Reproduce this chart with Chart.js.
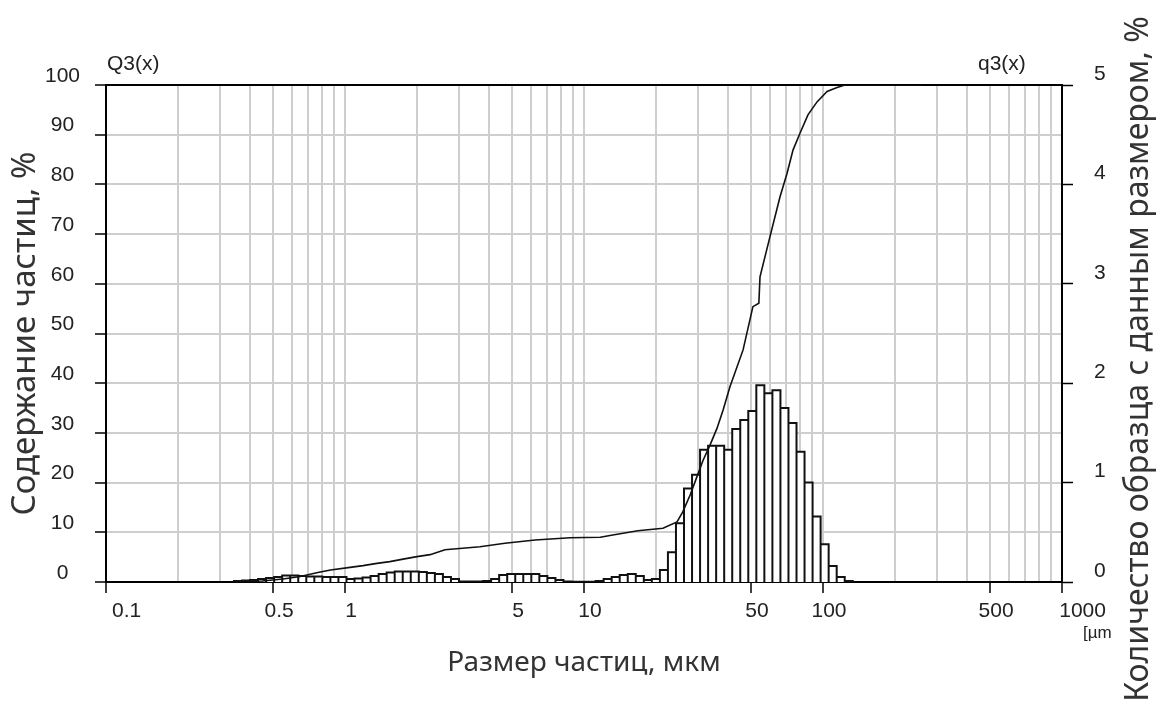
<!DOCTYPE html>
<html>
<head>
<meta charset="utf-8">
<title>Particle size distribution</title>
<script src="https://cdn.jsdelivr.net/npm/chart.js@4"></script>
<style>
  html, body { margin: 0; padding: 0; background: #fff; }
  canvas { display: block; }
</style>
</head>
<body>
<canvas id="psdChart" width="1159" height="715"></canvas>
<script>
// histogram channels: geometric bins, first lower edge and ratio
const binFirstEdge = 0.3431;   // µm
const binRatio = 1.0805;
// q3(x), % per channel (right axis)
const q3Values = [
    0.01, 0.015, 0.02, 0.03, 0.04, 0.05, 0.065, 0.065, 0.06, 0.055,
    0.055, 0.05, 0.05, 0.05, 0.03, 0.035, 0.045, 0.06, 0.08, 0.095,
    0.105, 0.105, 0.105, 0.10, 0.09, 0.08, 0.05, 0.03, 0.005, 0.005,
    0.005, 0.01, 0.03, 0.07, 0.08, 0.08, 0.08, 0.08, 0.06, 0.04,
    0.02, 0.005, 0.003, 0.003, 0.003, 0.01, 0.03, 0.05, 0.07, 0.08,
    0.06, 0.02, 0.03, 0.12, 0.30, 0.59, 0.94, 1.08, 1.33, 1.37,
    1.37, 1.33, 1.54, 1.63, 1.72, 1.98, 1.90, 1.93, 1.75, 1.60,
    1.31, 1.00, 0.66, 0.38, 0.16, 0.05, 0.01
];
// Q3(x), cumulative %, left axis
const cumSizes = [
    0.36, 0.45, 0.55, 0.65, 0.77, 0.87, 1.05, 1.19, 1.36, 1.54,
    1.75, 2.0, 2.27, 2.62, 3.67, 4.67, 6.24, 8.74, 11.7, 13.2,
    16.8, 21.4, 24.5, 25.9, 27.8, 29.7, 31.5, 33.7, 36.0, 38.2,
    40.8, 46.3, 50.9, 53.9, 54.5, 60.0, 66.1, 70.7, 74.9, 80.1,
    86.5, 94.4, 104, 114.5, 123.6, 259
];
const cumValues = [
    0, 0.2, 0.6, 1.1, 1.9, 2.4, 2.95, 3.3, 3.75, 4.1,
    4.6, 5.1, 5.5, 6.5, 7.1, 7.8, 8.45, 8.9, 9.0, 9.45,
    10.3, 10.8, 12.1, 14.1, 17.5, 21.2, 24.5, 27.6, 30.9, 34.6,
    39.3, 46.7, 55.4, 56.1, 61.4, 69.5, 77.5, 82.2, 86.9, 90.3,
    94.0, 96.6, 98.7, 99.5, 100, 100
];
const gridDecades = [0.1, 1, 10, 100];
const xTickLabels = [0.1, 0.5, 1, 5, 10, 50, 100, 500, 1000];

const tickFamily = "'Liberation Sans', Arial, sans-serif";
const titleFamily = "'Noto Sans', 'Open Sans', sans-serif";
const gridGray = '#cecece';

// outline of the histogram: every channel as a closed step
const histPoints = [];
q3Values.forEach((h, i) => {
    const lo = binFirstEdge * Math.pow(binRatio, i);
    const hi = lo * binRatio;
    histPoints.push({ x: lo, y: 0 }, { x: lo, y: h }, { x: hi, y: h }, { x: hi, y: 0 });
});

const cumPoints = cumSizes.map((s, i) => ({ x: s, y: cumValues[i] }));

const gridValues = [];
gridDecades.forEach(d => {
    for (let m = 1; m <= 9; m++) gridValues.push(+(d * m).toPrecision(3));
});
gridValues.push(1000);

const isLabelled = v => xTickLabels.includes(v);

const extraText = {
    id: 'extraText',
    afterDraw(chart) {
        const { ctx, chartArea: a } = chart;
        ctx.save();
        ctx.fillStyle = '#222';
        ctx.textBaseline = 'middle';
        ctx.textAlign = 'left';
        ctx.font = `21px ${tickFamily}`;
        ctx.fillText('Q3(x)', a.left + 1, a.top - 21);
        ctx.fillText('q3(x)', a.right - 84, a.top - 21);
        ctx.font = `17px ${tickFamily}`;
        ctx.fillText('[µm', a.right + 21, a.bottom + 51);

        // right axis title reads bottom-to-top like the left one
        ctx.fillStyle = '#333';
        ctx.font = `32px ${titleFamily}`;
        ctx.translate(1139, 359);
        ctx.rotate(-Math.PI / 2);
        ctx.textAlign = 'center';
        ctx.fillText('Количество образца с данным размером, %', 0, 0);
        ctx.restore();
    }
};

new Chart(document.getElementById('psdChart').getContext('2d'), {
    type: 'scatter',
    data: {
        datasets: [
            {
                label: 'Q3(x)',
                data: cumPoints,
                yAxisID: 'y',
                showLine: true,
                borderColor: '#111',
                borderWidth: 1.6,
                pointRadius: 0,
                tension: 0,
                fill: false
            },
            {
                label: 'q3(x)',
                data: histPoints,
                yAxisID: 'y2',
                showLine: true,
                borderColor: '#111',
                borderWidth: 2,
                borderJoinStyle: 'miter',
                backgroundColor: '#ffffff',
                pointRadius: 0,
                tension: 0,
                fill: 'origin'
            }
        ]
    },
    options: {
        responsive: false,
        devicePixelRatio: 1,
        animation: false,
        layout: { padding: { top: 85, left: 0, right: 0, bottom: 0 } },
        plugins: {
            legend: { display: false },
            tooltip: { enabled: false }
        },
        scales: {
            x: {
                type: 'logarithmic',
                min: 0.1,
                max: 1000,
                afterBuildTicks: s => { s.ticks = gridValues.map(v => ({ value: v })); },
                afterFit: s => { s.height = 133; },
                border: { color: '#000', width: 2 },
                grid: {
                    color: c => (c.tick && (c.tick.value === 0.1 || c.tick.value === 1000)) ? '#000' : gridGray,
                    lineWidth: 2,
                    tickLength: 11,
                    tickColor: c => (c.tick && isLabelled(c.tick.value)) ? '#000' : 'rgba(0,0,0,0)',
                    tickWidth: 1.5
                },
                ticks: {
                    autoSkip: false,
                    maxRotation: 0,
                    minRotation: 0,
                    padding: 6,
                    labelOffset: 6,
                    color: '#222',
                    font: { family: tickFamily, size: 21 },
                    callback: v => {
                        if (!isLabelled(v)) return '';
                        if (v === 0.1 || v === 1000) return '     ' + v;
                        return String(v);
                    }
                },
                title: {
                    display: true,
                    text: 'Размер частиц, мкм',
                    color: '#333',
                    font: { family: titleFamily, size: 28 },
                    padding: { top: 0, bottom: 35 }
                }
            },
            y: {
                position: 'left',
                min: 0,
                max: 100,
                afterFit: s => { s.width = 106; },
                border: { color: '#000', width: 2 },
                grid: {
                    color: c => (c.tick && (c.tick.value === 0 || c.tick.value === 100)) ? '#000' : gridGray,
                    lineWidth: 2,
                    tickLength: 11,
                    tickColor: '#000',
                    tickWidth: 1.5
                },
                ticks: {
                    stepSize: 10,
                    padding: 15,
                    crossAlign: 'center',
                    labelOffset: -9,
                    color: '#222',
                    font: { family: tickFamily, size: 21 }
                },
                title: {
                    display: true,
                    text: 'Содержание частиц, %',
                    color: '#333',
                    font: { family: titleFamily, size: 33 },
                    padding: { top: 6, bottom: 0 }
                }
            },
            y2: {
                position: 'right',
                min: 0,
                max: 5,
                afterFit: s => { s.width = 97; },
                border: { color: '#000', width: 2 },
                grid: {
                    drawOnChartArea: false,
                    tickLength: 11,
                    tickColor: '#000',
                    tickWidth: 1.5
                },
                ticks: {
                    stepSize: 1,
                    padding: 21,
                    labelOffset: -11,
                    color: '#222',
                    font: { family: tickFamily, size: 21 }
                }
            }
        }
    },
    plugins: [extraText]
});
</script>
</body>
</html>
